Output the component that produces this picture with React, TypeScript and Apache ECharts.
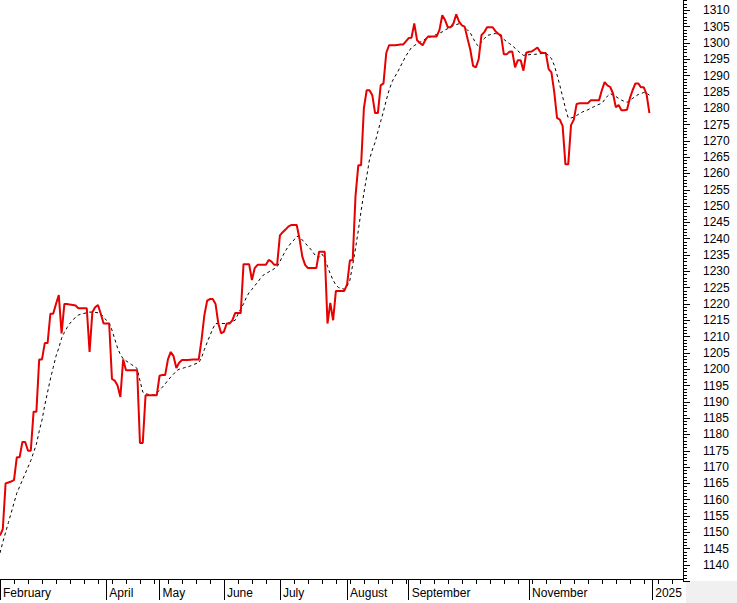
import React, { useEffect, useRef } from "react";
import * as echarts from "echarts";

// Daily closes (trading-day index 0..232)
const closeValues: number[] = [
  1149, 1151, 1165, 1165.3, 1165.6, 1166, 1173, 1173, 1177.7, 1177.7,
  1175, 1175, 1187, 1187, 1203, 1203, 1208, 1208, 1217, 1217,
  1220, 1222.7, 1211, 1220, 1220, 1219.8, 1219.7, 1219.5, 1218.7, 1218.7,
  1218.7, 1218.7, 1205.3, 1217.5, 1219, 1219.7, 1217, 1214, 1214, 1214,
  1197, 1196.5, 1195, 1191.5, 1203, 1199.7, 1199.7, 1199.7, 1199.7, 1199.7,
  1177.4, 1177.4, 1192, 1192, 1192, 1192, 1192, 1198, 1198.2, 1198.2,
  1203, 1205.3, 1204, 1200.4, 1202, 1202.8, 1202.8, 1202.8, 1202.9, 1203,
  1203, 1203, 1209, 1216.5, 1221, 1221.5, 1221.5, 1220, 1214, 1211,
  1211.5, 1214, 1214, 1215, 1217.2, 1217.2, 1217.2, 1232.2, 1232.2, 1232.2,
  1227.3, 1231, 1232, 1232, 1232, 1232, 1233.5, 1233, 1232, 1232,
  1241, 1242, 1242.8, 1243.7, 1244.2, 1244.2, 1244.2, 1240, 1234.5, 1232,
  1231, 1231, 1231, 1231, 1236, 1236, 1236, 1214, 1220.3, 1215,
  1224, 1224, 1224, 1224, 1226, 1233.4, 1233.4, 1253, 1262.5, 1262.5,
  1280, 1285.5, 1285.5, 1284, 1278.5, 1278.5, 1287, 1287.6, 1297, 1299.3,
  1299.3, 1299.3, 1299.4, 1299.5, 1299.5, 1300.5, 1301.5, 1301.6, 1306, 1300.8,
  1300, 1299.3, 1301, 1302, 1302, 1302, 1302, 1304, 1308.5, 1307,
  1304.8, 1304.8, 1306, 1308.8, 1306.5, 1305.4, 1305, 1301.4, 1298, 1293,
  1292.5, 1295, 1302.4, 1303.3, 1304.8, 1304.8, 1304.8, 1303.6, 1302.8, 1302.3,
  1296.5, 1296.5, 1297.3, 1297.4, 1292.5, 1294.7, 1294.7, 1291.5, 1297, 1297.3,
  1297.4, 1298, 1298.6, 1297.2, 1296.9, 1296.9, 1292, 1291, 1285, 1277,
  1276.5, 1274.5, 1262.8, 1262.8, 1274.8, 1276.5, 1281.3, 1281.5, 1281.5, 1281.5,
  1281.5, 1282.4, 1282.4, 1282.4, 1282.4, 1285.5, 1288, 1287, 1286.5, 1284.5,
  1280.3, 1281, 1279.4, 1279.4, 1279.5, 1283, 1285.5, 1287.6, 1287.6, 1286.4,
  1286.4, 1284.2, 1278.5,
];

// Moving average (dashed)
const maValues: number[] = [
  1143.7, 1147, 1150, 1153, 1156, 1159, 1162, 1164, 1166, 1168,
  1170, 1172, 1174.5, 1177, 1181, 1184.4, 1189, 1193, 1197, 1200.5,
  1204, 1206.5, 1209.5, 1211.3, 1212.8, 1214.1, 1215, 1216, 1216.6, 1216.9,
  1217.1, 1217.3, 1217.5, 1217.5, 1217.4, 1217.3, 1217, 1216, 1215, 1214.2,
  1212, 1209.2, 1206.5, 1204.5, 1203.2, 1202.6, 1202, 1201.4, 1200.9, 1200.2,
  1196.5, 1193, 1192.5, 1192.3, 1192.1, 1192.1, 1192.8, 1193.5, 1194.5, 1195.5,
  1196.6, 1197.6, 1198.5, 1199.5, 1200, 1200.2, 1200.5, 1200.7, 1201, 1201.4,
  1201.7, 1202, 1203.5, 1206, 1208.2, 1210.3, 1212.4, 1214, 1214, 1214,
  1214, 1214, 1214.3, 1214.7, 1215, 1216.8, 1218.5, 1220, 1222, 1223.5,
  1224.5, 1225.6, 1226.6, 1227.8, 1228.8, 1229.3, 1229.8, 1230.3, 1230.8, 1231.4,
  1233, 1234.7, 1236.3, 1237.6, 1238.7, 1239.6, 1240.7, 1240.7, 1239.6, 1238.7,
  1237.7, 1236.8, 1235.6, 1234.5, 1234.3, 1235.3, 1234, 1231.5, 1229.2, 1227.3,
  1225.8, 1225, 1224.8, 1224.5, 1225.5, 1227.3, 1232, 1237, 1242.5, 1248.5,
  1254, 1259, 1264.3, 1267.2, 1269.5, 1272.8, 1276, 1279, 1282.5, 1285.5,
  1288, 1289.6, 1291, 1292.7, 1294.4, 1296, 1297.3, 1298.6, 1299.2, 1299.7,
  1300.2, 1300.7, 1301.2, 1301.6, 1301.9, 1302.3, 1302.6, 1303, 1303.4, 1304,
  1304.4, 1304.9, 1305.3, 1305.6, 1305.9, 1305.5, 1304.7, 1304, 1303.1, 1301.5,
  1299.8, 1299, 1300.2, 1301.3, 1302.3, 1302.5, 1302.7, 1302.9, 1302.6, 1301.8,
  1301.1, 1300.4, 1299.8, 1299.2, 1298.4, 1297.6, 1296.8, 1296.2, 1296.3, 1296.4,
  1296.5, 1296.5, 1296.6, 1296.7, 1296.8, 1296.8, 1296.2, 1295.2, 1293.2, 1290.2,
  1287, 1283.5, 1280, 1277, 1277, 1277.3, 1277.8, 1278.3, 1278.8, 1279.2,
  1279.5, 1280, 1280.4, 1280.8, 1281.2, 1281.5, 1282.6, 1283.7, 1284.5, 1284,
  1283.6, 1283, 1282.5, 1282.1, 1281.8, 1282.4, 1283, 1283.6, 1284.2, 1284.5,
  1284.8, 1284.6, 1284,
];

// x axis: trading-day slots, month label positions
const slotCount = 245;
const dayIndex: string[] = Array.from({ length: slotCount }, (_, i) => String(i));
const monthStarts: number[] = [0, 38, 57, 80, 100, 124, 146, 189, 233];
const monthNames: string[] = ["February", "April", "May", "June", "July", "August", "September", "November", "2025"];

// y axis
const yMin = 1135;
const yMax = 1315;
const yStep = 5;

const FONT = "'Liberation Sans', Arial, sans-serif";

export default function App() {
  const ref = useRef<HTMLDivElement>(null);

  useEffect(() => {
    if (!ref.current) return;
    const chart = echarts.init(ref.current, undefined, { renderer: "svg" });
    const isMonth = (i: number) => monthStarts.indexOf(i) >= 0;
    chart.setOption({
      animation: false,
      backgroundColor: "#ffffff",
      grid: { left: 0, right: 54, top: 0, bottom: 21.7, containLabel: false },
      xAxis: [
        {
          type: "category",
          data: dayIndex,
          boundaryGap: false,
          offset: -2.3,
          axisLine: { show: true, lineStyle: { color: "#000", width: 1 } },
          axisTick: {
            show: true,
            length: 5,
            interval: (i: number) => i % 5 === 0 && !isMonth(i),
            lineStyle: { color: "#000" },
          },
          axisLabel: { show: false },
          splitLine: { show: false },
        },
        {
          type: "category",
          data: dayIndex,
          boundaryGap: false,
          position: "bottom",
          offset: -2.3,
          axisLine: { show: false },
          axisTick: {
            show: true,
            length: 21,
            interval: (i: number) => isMonth(i),
            lineStyle: { color: "#000" },
          },
          axisLabel: {
            show: true,
            interval: (i: number) => isMonth(i),
            formatter: (_v: string, i: number) => monthNames[monthStarts.indexOf(i)] ?? "",
            align: "left",
            padding: [0, 0, 0, 3],
            margin: 8,
            color: "#000",
            fontSize: 12,
            fontFamily: FONT,
          },
          splitLine: { show: false },
        },
      ],
      yAxis: {
        type: "value",
        position: "right",
        min: yMin,
        max: yMax,
        interval: yStep,
        axisLine: { show: true, lineStyle: { color: "#000", width: 1 } },
        axisTick: { show: true, length: 7, lineStyle: { color: "#000" } },
        minorTick: { show: true, splitNumber: 5, length: 4, lineStyle: { color: "#000" } },
        splitLine: { show: false },
        axisLabel: {
          margin: 20,
          color: "#000",
          fontSize: 12,
          fontFamily: FONT,
          formatter: (v: number) => (v <= yMin || v >= yMax ? "" : String(v)),
        },
      },
      graphic: [
        {
          type: "rect",
          shape: { x: 686, y: 587, width: 51, height: 22 },
          style: { fill: "#f0f0f0" },
          silent: true,
        },
      ],
      series: [
        {
          name: "MA",
          type: "line",
          data: maValues,
          symbol: "none",
          lineStyle: { color: "#000", width: 1, type: [3, 3] },
          z: 3,
        },
        {
          name: "Close",
          type: "line",
          data: closeValues,
          symbol: "none",
          lineStyle: { color: "#e60000", width: 2 },
          z: 4,
        },
      ],
    });
    return () => chart.dispose();
  }, []);

  return (
    <div
      ref={ref}
      style={{ position: "fixed", left: 0, top: -6, width: 737, height: 609 }}
    />
  );
}
